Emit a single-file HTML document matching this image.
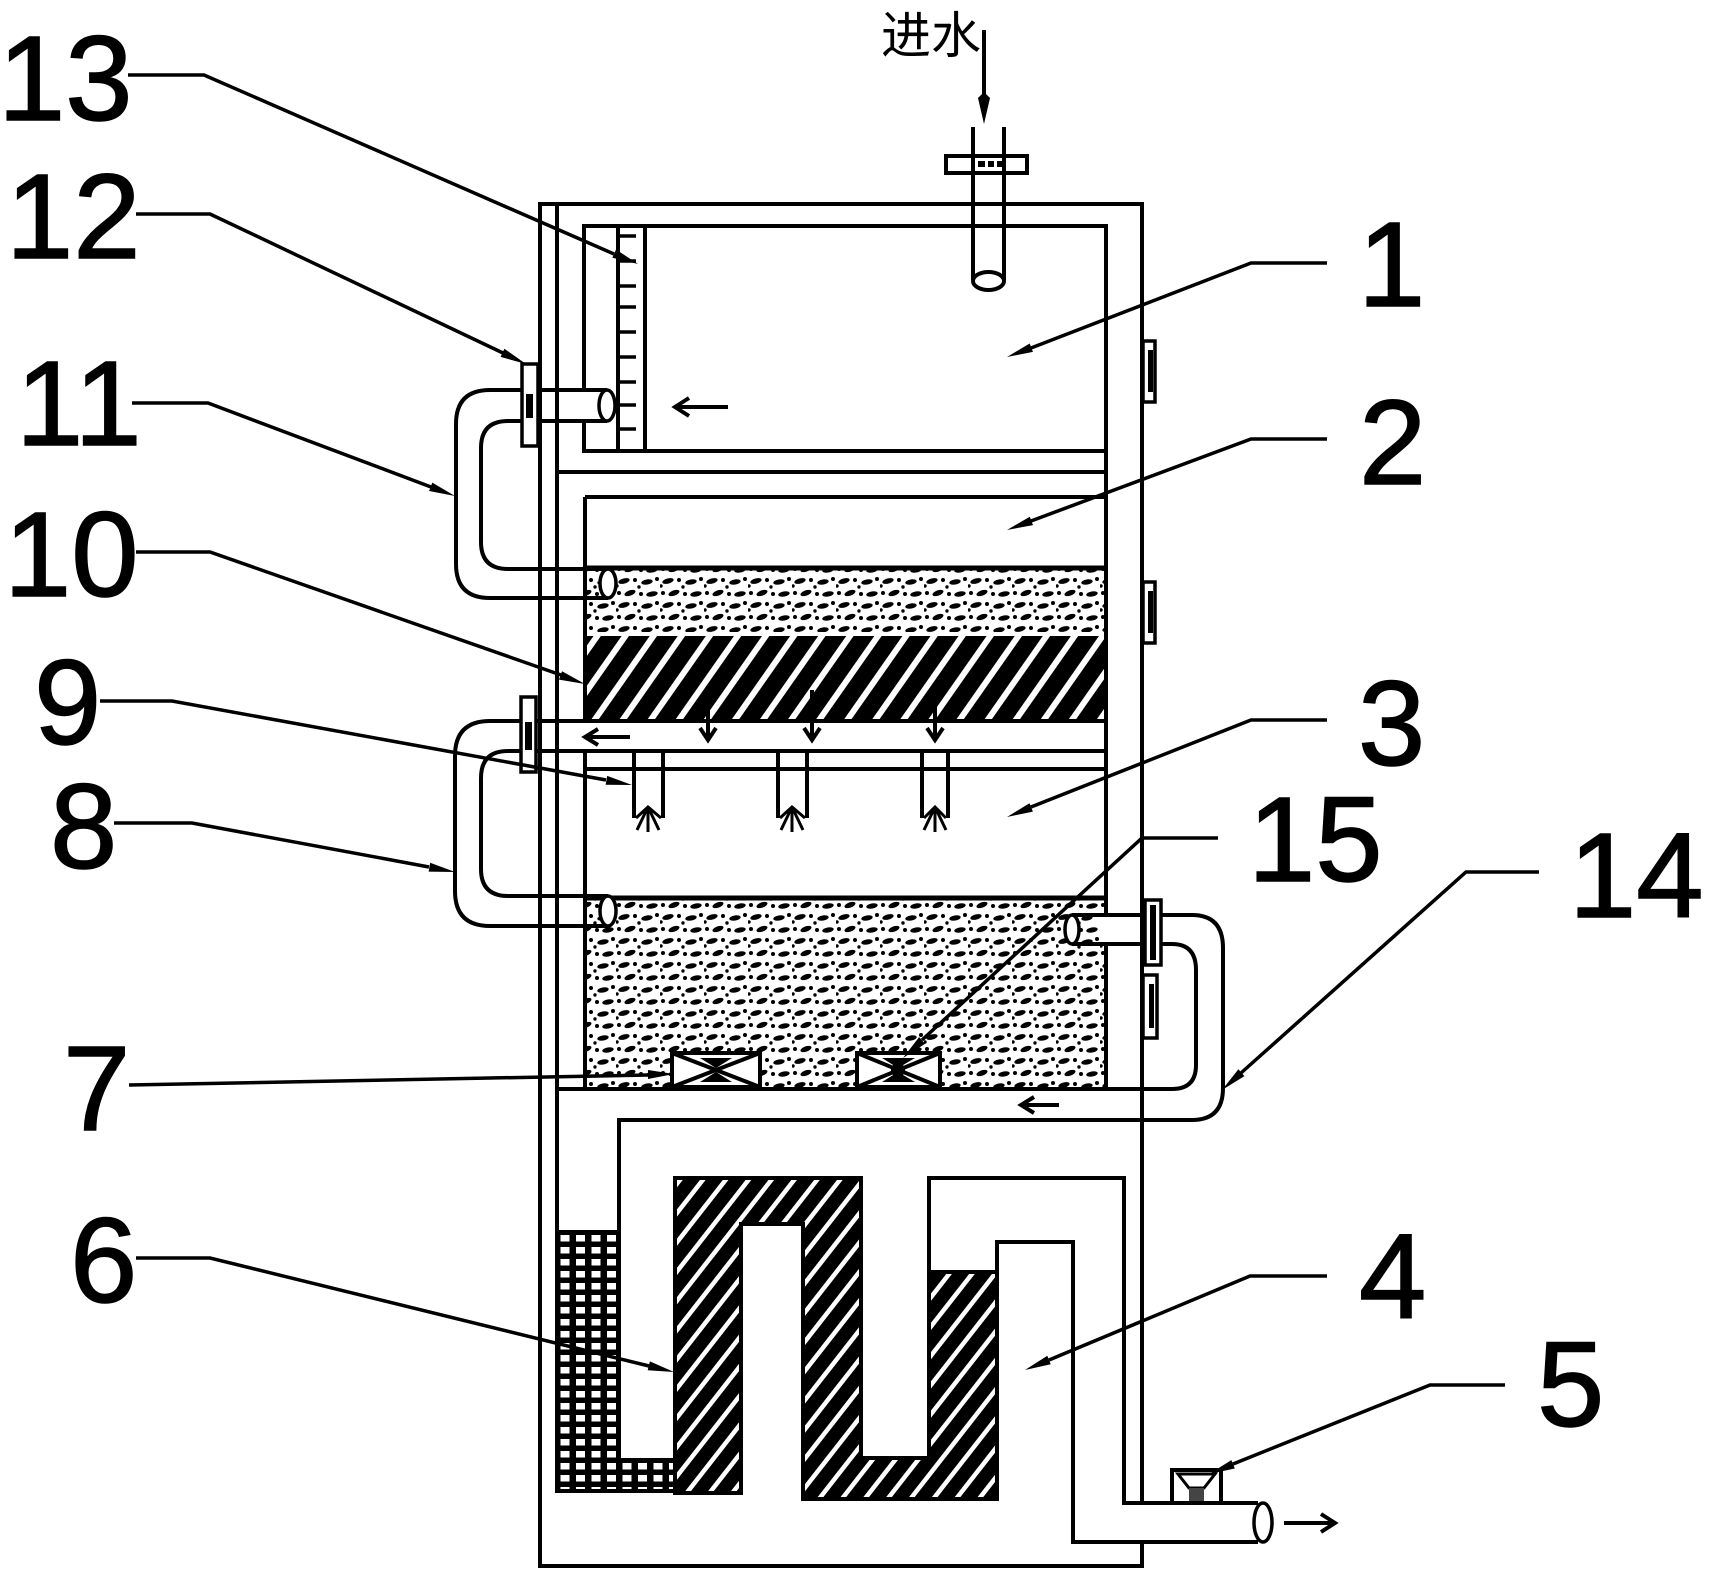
<!DOCTYPE html>
<html><head><meta charset="utf-8">
<style>html,body{margin:0;padding:0;background:#fff}svg{display:block}</style>
</head><body>
<svg width="1713" height="1580" viewBox="0 0 1713 1580" xmlns="http://www.w3.org/2000/svg">
<defs>
 <pattern id="hatch" patternUnits="userSpaceOnUse" width="23" height="23" patternTransform="rotate(35)">
  <rect width="23" height="23" fill="#000"/>
  <rect x="0" width="6" height="23" fill="#fff"/>
 </pattern>
 <pattern id="hatch2" patternUnits="userSpaceOnUse" width="18" height="18" patternTransform="rotate(38)">
  <rect width="18" height="18" fill="#000"/>
  <rect x="0" width="4.5" height="18" fill="#fff"/>
 </pattern>
 <pattern id="sp" patternUnits="userSpaceOnUse" width="44" height="24">
  <g fill="#000">
   <ellipse cx="8" cy="5" rx="5.8" ry="2.6" transform="rotate(-15 8 5)"/>
   <circle cx="19" cy="4" r="2"/>
   <ellipse cx="31" cy="6" rx="5.8" ry="2.6" transform="rotate(-10 31 6)"/>
   <circle cx="41" cy="3" r="2"/>
   <circle cx="3" cy="17" r="2"/>
   <ellipse cx="14" cy="17" rx="5.8" ry="2.6" transform="rotate(-20 14 17)"/>
   <circle cx="25" cy="18" r="2"/>
   <ellipse cx="36" cy="18" rx="5.8" ry="2.6" transform="rotate(-10 36 18)"/>
   <circle cx="23" cy="11" r="1.7"/>
   <circle cx="1" cy="10" r="1.7"/>
  </g>
 </pattern>
 <pattern id="mesh" patternUnits="userSpaceOnUse" x="557" y="1232" width="15.5" height="12">
  <rect width="15.5" height="12" fill="#000"/>
  <rect x="3.5" y="3" width="9" height="6.5" fill="#fff"/>
 </pattern>
</defs>
<rect width="1713" height="1580" fill="#fff"/>

<!-- fills -->
<rect x="587" y="570" width="517" height="62" fill="url(#sp)"/>
<rect x="587" y="636" width="517" height="83" fill="url(#hatch)"/>
<rect x="587" y="900" width="517" height="187" fill="url(#sp)"/>
<path d="M675 1178H861V1458H929V1272H997V1499H803V1224H741V1493H675Z" fill="url(#hatch2)" stroke="#000" stroke-width="4"/>
<path d="M557 1232H619V1460H675V1491H557Z" fill="url(#mesh)" stroke="#000" stroke-width="4"/>

<g stroke="#000" stroke-width="4" fill="none">
 <path d="M585 497V1089"/>
</g>
<rect x="559" y="723" width="545" height="26" fill="#fff"/>

<g stroke="#000" stroke-width="4" fill="none">
 <path d="M540 204H1142V1566H540Z"/>
 <path d="M557 204V1232"/>
 <path d="M584 226H1106V451H584Z"/>
 <path d="M618 226V451M645 226V451"/>
 <path d="M618 236H636M618 261H636M618 286H636M618 307H636M618 332H636M618 357H636M618 382H636M618 405H636M618 429H636" stroke-width="3.5"/>
 <path d="M557 472H1106"/>
 <path d="M1106 451V1089"/>
 <path d="M585 497H1106"/>
 <path d="M585 568H1106" stroke-width="5"/>
 <path d="M585 769H1106"/>
 <path d="M585 898H1106" stroke-width="5"/>
 <path d="M929 1272V1178H1124V1503H1258"/>
 <path d="M997 1272V1242H1073V1542H1258"/>
</g>

<rect x="1100" y="917" width="12" height="25" fill="#fff"/>
<rect x="1138" y="1505" width="8" height="35" fill="#fff"/>
<rect x="570" y="392" width="30" height="28" fill="#fff"/>

<g stroke="#000" stroke-width="4" fill="none">
 <path d="M1106 721H490Q455 721 455 756V891Q455 926 490 926H608"/>
 <path d="M1106 751H508Q481 751 481 778V869Q481 896 508 896H608"/>
 <path d="M522 390H490Q456 390 456 424V564Q456 598 490 598H608"/>
 <path d="M522 421H508Q481 421 481 448V542Q481 569 508 569H608"/>
 <path d="M538 390H607M538 421H607"/>
 <path d="M557 1089H1172Q1196 1089 1196 1065V970Q1196 944 1172 944H1072"/>
 <path d="M1072 915H1192Q1223 915 1223 948V1088Q1223 1120 1192 1120H619V1460"/>
</g>
<g stroke="#000" stroke-width="3.5" fill="#fff">
 <ellipse cx="607" cy="405.5" rx="8" ry="15.5"/>
 <ellipse cx="608" cy="583.5" rx="8" ry="14.5"/>
 <ellipse cx="608" cy="911" rx="8" ry="15"/>
 <ellipse cx="1072" cy="929.5" rx="7" ry="14.5"/>
 <ellipse cx="1263" cy="1522.5" rx="9" ry="19.5"/>
</g>

<g stroke="#000" stroke-width="3.5" fill="#fff">
 <rect x="522" y="364" width="16" height="82"/>
 <rect x="521" y="697" width="15" height="75"/>
 <rect x="1145" y="900" width="16" height="65"/>
 <rect x="1143" y="341" width="12" height="61"/>
 <rect x="1143" y="582" width="12" height="61"/>
 <rect x="1143" y="975" width="14" height="63"/>
</g>
<g fill="#000">
 <rect x="526" y="394" width="7" height="24"/>
 <rect x="525" y="722" width="7" height="28"/>
 <rect x="1150" y="905" width="6" height="55"/>
 <rect x="1148" y="350" width="5" height="42"/>
 <rect x="1148" y="591" width="5" height="42"/>
 <rect x="1149" y="984" width="5" height="44"/>
</g>

<g stroke="#000" stroke-width="4" fill="none">
 <path d="M634 751V818M663 751V818"/>
 <path d="M778 751V818M807 751V818"/>
 <path d="M922 751V818M948 751V818"/>
</g>
<g stroke="#000" stroke-width="3" fill="none">
 <path d="M636 818L648 807L661 818M648 807L637 830M648 807V832M648 807L659 830"/>
 <path d="M780 818L792 807L805 818M792 807L781 830M792 807V832M792 807L803 830"/>
 <path d="M924 818L935 807L946 818M935 807L924 830M935 807V832M935 807L946 830"/>
</g>

<g stroke="#000" stroke-width="4" fill="none">
 <path d="M708 690V736M700 728L708 740L716 728"/>
 <path d="M812 690V736M804 728L812 740L820 728"/>
 <path d="M935 690V736M927 728L935 740L943 728"/>
 <path d="M630 737H586M598 729L585 737L598 745"/>
 <path d="M728 407H676M689 398L675 407L689 416"/>
 <path d="M1059 1105H1022M1034 1097L1021 1105L1034 1113"/>
 <path d="M1284 1523H1334M1321 1514L1335 1523L1321 1532"/>
</g>

<g stroke="#000" stroke-width="4" fill="#fff">
 <rect x="672" y="1053" width="88" height="34"/>
 <rect x="857" y="1053" width="83" height="34"/>
</g>
<g stroke="#000" stroke-width="4" fill="none">
 <path d="M672 1053L760 1087M672 1087L760 1053"/>
 <path d="M857 1053L940 1087M857 1087L940 1053"/>
</g>
<path d="M700 1058H732L716 1068Z M700 1082H732L716 1072Z" fill="#000"/>
<path d="M882 1058H915L898 1068Z M882 1082H915L898 1072Z" fill="#000"/>
<circle cx="898" cy="1070" r="7" fill="#000"/>

<rect x="1172" y="1470" width="49" height="33" fill="#fff" stroke="#000" stroke-width="4"/>
<path d="M1178 1474H1215L1204 1488H1189Z" fill="#fff" stroke="#000" stroke-width="3"/>
<rect x="1189" y="1488" width="15" height="13" fill="#444"/>

<rect x="946" y="156" width="81" height="17" fill="#fff" stroke="#000" stroke-width="4"/>
<g fill="#000"><rect x="978" y="161" width="7" height="6"/><rect x="988" y="161" width="6" height="6"/><rect x="997" y="161" width="5" height="6"/></g>
<g stroke="#000" stroke-width="4" fill="none">
 <path d="M973 127V280M1004 127V280"/>
 <path d="M984 30V100"/>
</g>
<ellipse cx="988.5" cy="281" rx="15.5" ry="9" fill="#fff" stroke="#000" stroke-width="4"/>
<polygon points="984,124 978,98 984,92 990,98" fill="#000"/>
<text x="881" y="53" font-size="50" font-family="'Liberation Sans','Noto Sans CJK SC',sans-serif" fill="#000">进水</text>

<g stroke="#000" stroke-width="3.5" fill="none">
 <path d="M128 75H204L614 254"/>
 <path d="M136 214H210L503 353"/>
 <path d="M132 403H208L431 487"/>
 <path d="M136 552H210L561 675"/>
 <path d="M100 701H172L606 780"/>
 <path d="M114 823H192L429 867"/>
 <path d="M129 1085L648 1075"/>
 <path d="M136 1258H210L649 1366"/>
 <path d="M1327 263H1251L1031 348"/>
 <path d="M1327 439H1251L1031 521"/>
 <path d="M1327 720H1251L1031 807"/>
 <path d="M1218 838H1142L922 1040"/>
 <path d="M1539 872H1466L1241 1073"/>
 <path d="M1327 1276H1250L1049 1360"/>
 <path d="M1505 1385H1430L1233 1464"/>
</g>
<g fill="#000">
 <polygon points="638,264 612.4,257.7 616,249.5"/>
 <polygon points="526,364 500.6,356.9 504.4,348.7"/>
 <polygon points="455,496 429.1,491 432.3,482.6"/>
 <polygon points="585,684 559,679.6 562,671.2"/>
 <polygon points="632,785 605.6,784.7 607.2,775.9"/>
 <polygon points="455,872 428.6,871.6 430.2,862.8"/>
 <polygon points="674,1074 648,1079 648,1070"/>
 <polygon points="674,1372 647.7,1370.2 649.9,1361.4"/>
 <polygon points="1007,357 1029.7,343.5 1032.9,351.9"/>
 <polygon points="1007,530 1029.8,516.7 1033,525.1"/>
 <polygon points="1007,817 1029.5,803.2 1032.9,811.6"/>
 <polygon points="903,1058 919.1,1037.1 925.1,1043.7"/>
 <polygon points="1222,1090 1238.4,1069.3 1244.4,1076.1"/>
 <polygon points="1025,1370 1047.3,1355.8 1050.7,1364.2"/>
 <polygon points="1209,1474 1231.4,1460.1 1234.8,1468.5"/>
</g>

<g font-family="'Liberation Sans',Arial,sans-serif" font-size="121" fill="#000" stroke="#000" stroke-width="1.5">
 <text x="-2" y="120">13</text>
 <text x="6" y="258">12</text>
 <text x="16" y="445">11</text>
 <text x="4" y="596">10</text>
 <text x="34" y="744">9</text>
 <text x="50" y="868">8</text>
 <text x="63" y="1130">7</text>
 <text x="70" y="1302">6</text>
 <text x="1358" y="306">1</text>
 <text x="1359" y="484">2</text>
 <text x="1358" y="765">3</text>
 <text x="1248" y="881">15</text>
 <text x="1569" y="917">14</text>
 <text x="1359" y="1318">4</text>
 <text x="1537" y="1426">5</text>
</g>
</svg>
</body></html>
